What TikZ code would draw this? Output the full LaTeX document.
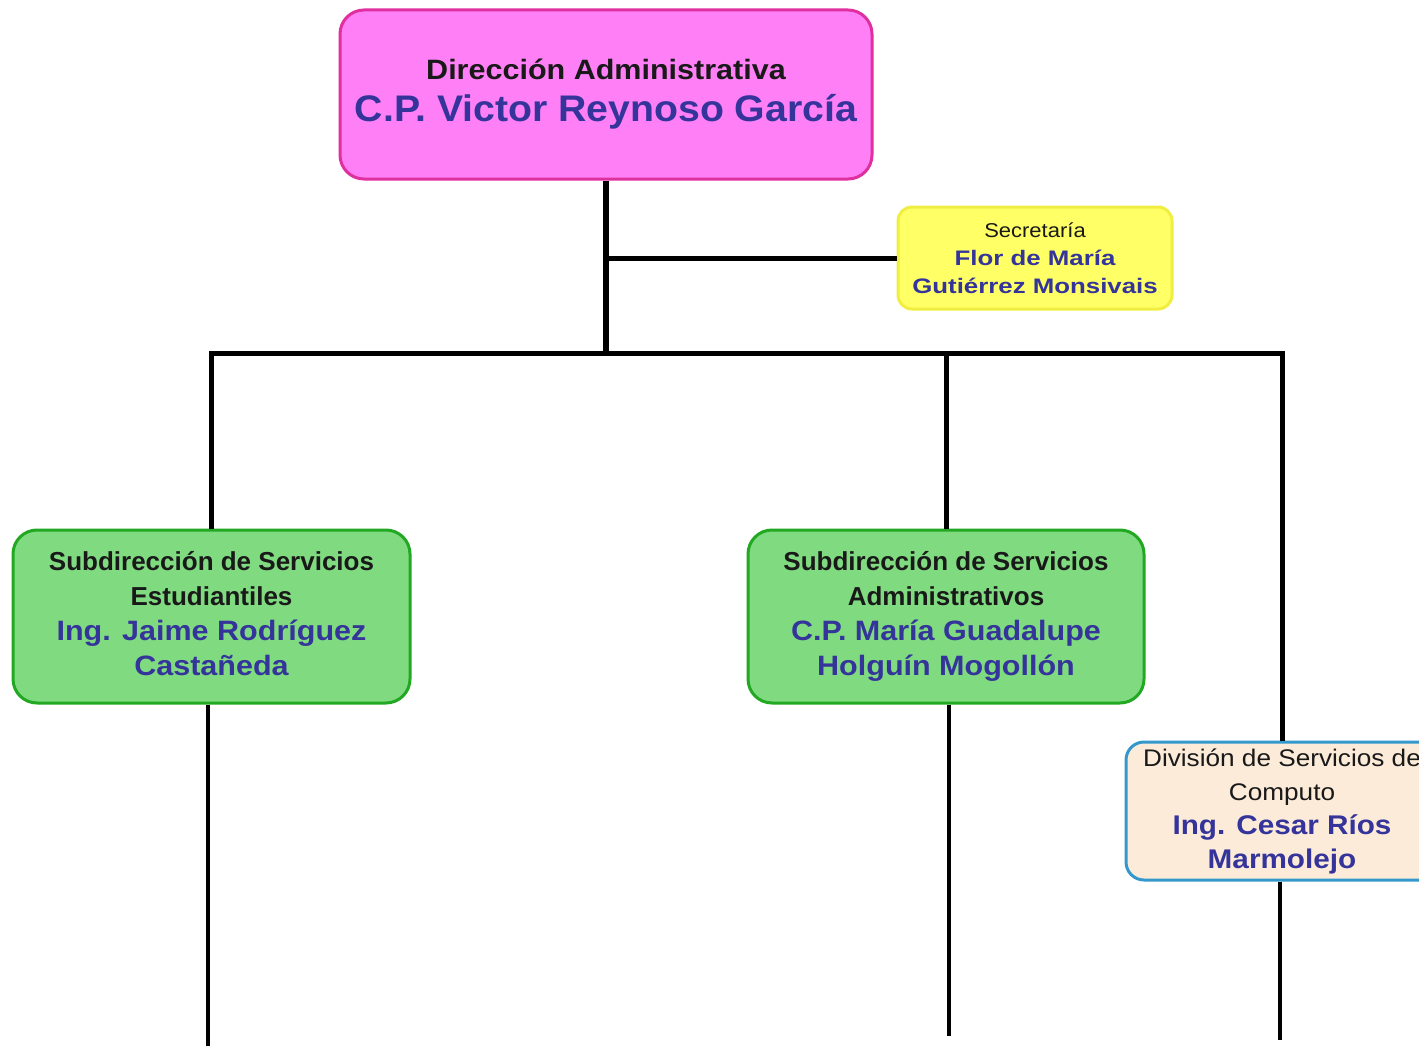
\documentclass[tikz,border=0pt]{standalone}
\usepackage{fontspec}
\usepackage{graphicx}
\setmainfont{Liberation Sans}
\definecolor{pinkfill}{HTML}{FF80F6}
\definecolor{pinkline}{HTML}{E0309F}
\definecolor{yelfill}{HTML}{FFFF66}
\definecolor{yelline}{HTML}{F0EE40}
\definecolor{grnfill}{HTML}{80DB80}
\definecolor{grnline}{HTML}{22A822}
\definecolor{peachfill}{HTML}{FCEBD9}
\definecolor{peachline}{HTML}{3399CC}
\definecolor{nameblue}{HTML}{34349A}
\newcommand\sx[2]{\scalebox{#1}[1]{#2}}
\newcommand\nm[1]{\textcolor{nameblue}{#1}}
\tikzset{
  orgbox/.style={draw, rectangle, align=center, inner sep=0pt, line width=3pt, text=black!90},
  pinkbox/.style={orgbox, fill=pinkfill, draw=pinkline, rounded corners=24pt, minimum width=532pt, minimum height=169pt},
  yelbox/.style={orgbox, fill=yelfill, draw=yelline, rounded corners=14pt, minimum width=274pt, minimum height=102pt},
  grnbox/.style={orgbox, fill=grnfill, draw=grnline, rounded corners=24pt, minimum width=396pt, minimum height=173pt},
  peachbox/.style={orgbox, fill=peachfill, draw=peachline, rounded corners=18pt, minimum width=312pt, minimum height=138pt},
  conn/.style={line width=5pt, black},
  connlow/.style={line width=4pt, black}
}
\begin{document}
\begin{tikzpicture}[x=1pt,y=-1pt]
\useasboundingbox (0,0) rectangle (1419,1046);
\clip (0,0) rectangle (1419,1046);
\fill[white] (0,0) rectangle (1419,1046);

% coordinates
\coordinate (s) at (606,258);
\coordinate (j) at (606,353);
\coordinate (jl) at (211.5,353);
\coordinate (jm) at (946,353);
\coordinate (jr) at (1282,353);
\coordinate (b1) at (208,1046);
\coordinate (b2) at (949,1036);
\coordinate (b3) at (1280,1040);

% nodes
\node[pinkbox, font=\bfseries\fontsize{28}{42}\selectfont] (dir) at (606,94.5) {%
  \sx{1.09}{Dirección Administrativa}\\
  \nm{\fontsize{37}{42}\selectfont\sx{1.06}{C.P. Victor Reynoso García}}};

\node[yelbox, font=\fontsize{20}{28}\selectfont] (sec) at (1035,258) {%
  \sx{1.1}{Secretaría}\\
  \nm{\bfseries\fontsize{21}{28}\selectfont\sx{1.23}{Flor de María}}\\
  \nm{\bfseries\fontsize{21}{28}\selectfont\sx{1.23}{Gutiérrez Monsivais}}};

\node[grnbox, minimum width=397pt, font=\bfseries\fontsize{26}{35}\selectfont] (sse) at (211.5,616.5) {%
  Subdirección de Servicios\\
  Estudiantiles\\
  \nm{\fontsize{28}{35}\selectfont\sx{1.09}{Ing. Jaime Rodríguez}}\\
  \nm{\fontsize{28}{35}\selectfont\sx{1.09}{Castañeda\vphantom{g}}}};

\node[grnbox, font=\bfseries\fontsize{26}{35}\selectfont] (ssa) at (946,616.5) {%
  Subdirección de Servicios\\
  Administrativos\\
  \nm{\fontsize{28}{35}\selectfont\sx{1.09}{C.P. María Guadalupe}}\\
  \nm{\fontsize{28}{35}\selectfont\sx{1.09}{Holguín Mogollón}}};

\node[peachbox, font=\fontsize{24}{34}\selectfont] (dsc) at (1282,811) {%
  \sx{1.09}{División de Servicios de}\\
  \sx{1.09}{Computo}\\
  \nm{\bfseries\fontsize{27}{34}\selectfont\sx{1.1}{Ing. Cesar Ríos}}\\
  \nm{\bfseries\fontsize{27}{34}\selectfont\sx{1.1}{Marmolejo}}};

% connectors
\draw[conn, line width=6pt] (dir.south) -- (j);
\draw[conn] (s) -- (sec.west);
\draw[conn] ([xshift=-2.5pt]jl) -- ([xshift=2.5pt]jr);
\draw[conn] (jl) -- (sse.north);
\draw[conn] (jm) -- (ssa.north);
\draw[conn] (jr) -- (dsc.north);
\draw[connlow] (sse.south -| b1) -- (b1);
\draw[connlow] (ssa.south -| b2) -- (b2);
\draw[connlow] (dsc.south -| b3) -- (b3);
\end{tikzpicture}
\end{document}
